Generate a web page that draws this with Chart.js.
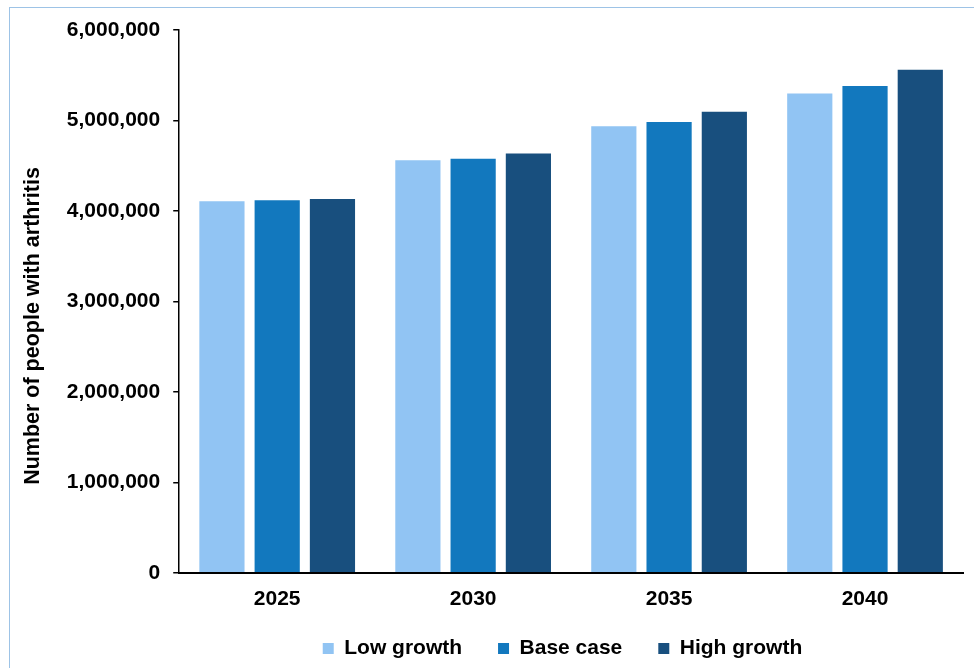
<!DOCTYPE html>
<html>
<head>
<meta charset="utf-8">
<script src="https://cdn.jsdelivr.net/npm/chart.js@4"></script>
<style>
  html, body { margin: 0; padding: 0; background: #ffffff; overflow: hidden; }
  #frame { position: absolute; left: 9px; top: 7px; width: 980px; height: 700px; border: 1px solid #9DC3E6; box-sizing: border-box; }
  #wrap { position: absolute; left: 0; top: 0; width: 974px; height: 668px; }
</style>
</head>
<body>
<div id="frame"></div>
<div id="wrap"><canvas id="c" width="974" height="668"></canvas></div>
<script>
const categories = ['2025', '2030', '2035', '2040'];
const lowGrowth  = [4107000, 4561000, 4937000, 5299000];
const baseCase   = [4118000, 4576000, 4982000, 5380000];
const highGrowth = [4133000, 4635000, 5096000, 5561000];
const seriesNames = ['Low growth', 'Base case', 'High growth'];
const seriesColors = ['#91C4F3', '#1278BE', '#184F7E'];
const yTitle = 'Number of people with arthritis';

const FONT = '"Liberation Sans", Arial, sans-serif';

// Legend moved to match the reference position
const legendShift = {
  id: 'legendShift',
  afterLayout(chart) {
    const lg = chart.legend;
    if (lg) { lg.left += 71; lg.right += 71; lg.top -= 25; }
  }
};

// Y axis title drawn a little below the plot centre, as in the reference
const yTitlePlugin = {
  id: 'yTitlePlugin',
  afterDraw(chart) {
    const ctx = chart.ctx;
    ctx.save();
    ctx.translate(33, 326);
    ctx.rotate(-Math.PI / 2);
    ctx.fillStyle = '#000000';
    ctx.font = 'bold 21.5px ' + FONT;
    ctx.textAlign = 'center';
    ctx.textBaseline = 'middle';
    ctx.fillText(yTitle, 0, 0);
    ctx.restore();
  }
};

new Chart(document.getElementById('c'), {
  type: 'bar',
  data: {
    labels: categories,
    datasets: [lowGrowth, baseCase, highGrowth].map((d, i) => ({
      label: seriesNames[i],
      data: d,
      backgroundColor: seriesColors[i],
      borderWidth: 0,
      categoryPercentage: 0.846,
      barPercentage: 0.818
    }))
  },
  plugins: [legendShift, yTitlePlugin],
  options: {
    responsive: false,
    animation: false,
    layout: { padding: { left: 20, right: 11, top: 30, bottom: 1 } },
    plugins: {
      tooltip: { enabled: false },
      legend: {
        position: 'bottom',
        maxHeight: 40,
        labels: {
          boxWidth: 11,
          boxHeight: 11,
          padding: 36,
          color: '#000000',
          font: { family: FONT, size: 21, weight: 'bold' }
        }
      }
    },
    scales: {
      x: {
        grid: { display: false, drawTicks: false },
        border: { display: true, color: '#000000', width: 2 },
        ticks: {
          color: '#000000',
          padding: 14,
          font: { family: FONT, size: 21, weight: 'bold' }
        },
        afterFit: s => { s.height += 1; }
      },
      y: {
        min: 0,
        max: 6000000,
        ticks: {
          stepSize: 1000000,
          color: '#000000',
          padding: 13,
          font: { family: FONT, size: 21, weight: 'bold' },
          callback: v => v.toLocaleString('en-US')
        },
        grid: { drawOnChartArea: false, drawTicks: true, tickLength: 6, color: '#000000', lineWidth: 1.5 },
        border: { display: true, color: '#000000', width: 1.5 },
        title: {
          display: true,
          text: yTitle,
          color: 'rgba(0,0,0,0)',
          font: { family: FONT, size: 21.5, weight: 'bold' },
          padding: { top: 0, bottom: 8 }
        }
      }
    }
  }
});
</script>
</body>
</html>
